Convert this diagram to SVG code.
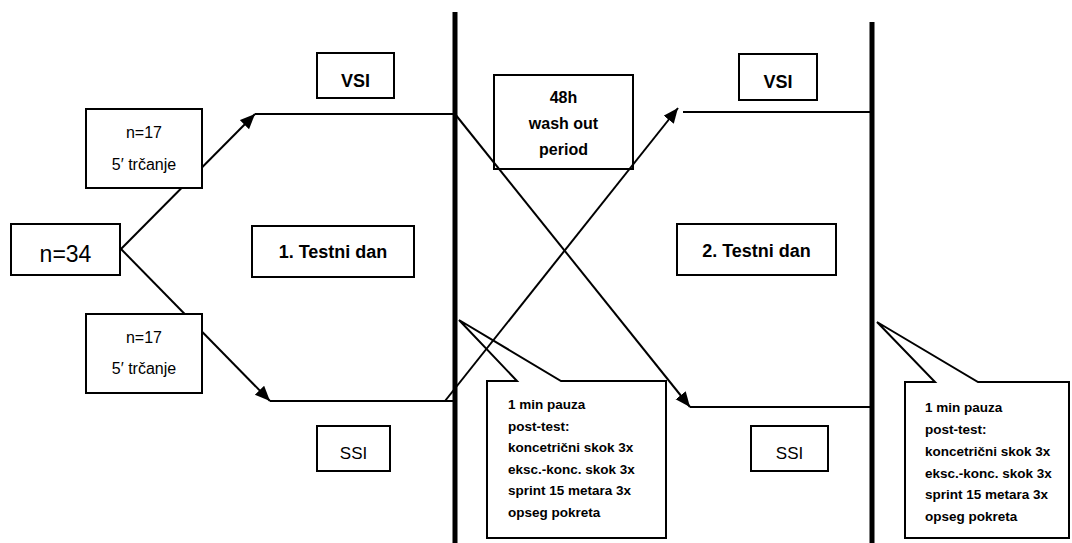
<svg xmlns="http://www.w3.org/2000/svg" width="1072" height="543" viewBox="0 0 1072 543">
<style>
.box{fill:#fff;stroke:#000;stroke-width:2}
.open{fill:none;stroke:#000;stroke-width:2}
.ln{fill:none;stroke:#000;stroke-width:2}
.bar{fill:none;stroke:#000;stroke-width:5}
.t{font-family:"Liberation Sans",Arial,sans-serif;fill:#000;text-anchor:middle}
.b{font-weight:bold}
.c{font-family:"Liberation Sans",Arial,sans-serif;font-weight:bold;font-size:13.5px;fill:#000}
</style>
<defs>
<marker id="ah" markerUnits="userSpaceOnUse" markerWidth="16" markerHeight="14" refX="15" refY="6.5" orient="auto">
<path d="M0,0 L15,6.5 L0,13 z" fill="#000"/>
</marker>
</defs>
<g id="connectors">
<line class="ln" x1="121" y1="249" x2="255" y2="114" marker-end="url(#ah)"/>
<line class="ln" x1="255" y1="114" x2="455" y2="114"/>
<line class="ln" x1="455" y1="114" x2="690" y2="407" marker-end="url(#ah)"/>
<line class="ln" x1="690" y1="407" x2="872" y2="407"/>
<line class="ln" x1="121" y1="249" x2="270" y2="401" marker-end="url(#ah)"/>
<line class="ln" x1="270" y1="401" x2="455" y2="401"/>
<line class="ln" x1="445" y1="401" x2="678" y2="108" marker-end="url(#ah)"/>
<line class="ln" x1="683" y1="112" x2="872" y2="112"/>
</g>
<g id="dividers">
<line class="bar" x1="455" y1="12" x2="455" y2="543"/>
<line class="bar" x1="872" y1="22" x2="872" y2="543"/>
</g>
<g id="n34">
<rect class="box" x="11" y="224" width="109" height="51"/>
<text class="t" x="65.5" y="262" font-size="23">n=34</text>
</g>
<g id="group-top">
<rect class="box" x="86" y="109" width="116" height="79"/>
<text class="t" x="144" y="138" font-size="16">n=17</text>
<text class="t" x="144" y="170" font-size="16">5′ trčanje</text>
</g>
<g id="group-bottom">
<rect class="box" x="86" y="314" width="116" height="79"/>
<text class="t" x="144" y="343" font-size="16">n=17</text>
<text class="t" x="144" y="374" font-size="16">5′ trčanje</text>
</g>
<g id="vsi-1">
<rect class="box" x="317" y="53" width="77" height="45"/>
<text class="t b" x="355.5" y="87" font-size="18">VSI</text>
</g>
<g id="day-1">
<rect class="box" x="252" y="226" width="162" height="51"/>
<text class="t b" x="333" y="258" font-size="18">1. Testni dan</text>
</g>
<g id="ssi-1">
<rect class="box" x="317" y="426" width="73" height="45"/>
<text class="t" x="353.5" y="459" font-size="17">SSI</text>
</g>
<g id="washout">
<rect class="open" x="494" y="75" width="139" height="94"/>
<text class="t b" x="563.5" y="103" font-size="16">48h</text>
<text class="t b" x="563.5" y="129" font-size="16">wash out</text>
<text class="t b" x="563.5" y="155" font-size="16">period</text>
</g>
<g id="vsi-2">
<rect class="box" x="739" y="54" width="78" height="46"/>
<text class="t b" x="778" y="88" font-size="18">VSI</text>
</g>
<g id="day-2">
<rect class="box" x="677" y="224" width="159" height="51"/>
<text class="t b" x="756.5" y="257" font-size="18">2. Testni dan</text>
</g>
<g id="ssi-2">
<rect class="box" x="751" y="426" width="77" height="45"/>
<text class="t" x="789.5" y="459" font-size="17">SSI</text>
</g>
<g id="callout-1">
<path class="open" d="M487,381 L517,381 L459,320 L561,381 L666,381 L666,538 L487,538 Z"/>
<text class="c" x="508" y="409">1 min pauza</text>
<text class="c" x="508" y="431">post-test:</text>
<text class="c" x="508" y="452">koncetrični skok 3x</text>
<text class="c" x="508" y="474">eksc.-konc. skok 3x</text>
<text class="c" x="508" y="495">sprint 15 metara 3x</text>
<text class="c" x="508" y="517">opseg pokreta</text>
</g>
<g id="callout-2">
<path class="open" d="M905,382 L935,382 L877,322 L978,382 L1069,382 L1069,538 L905,538 Z"/>
<text class="c" x="925" y="412">1 min pauza</text>
<text class="c" x="925" y="434">post-test:</text>
<text class="c" x="925" y="456">koncetrični skok 3x</text>
<text class="c" x="925" y="478">eksc.-konc. skok 3x</text>
<text class="c" x="925" y="499">sprint 15 metara 3x</text>
<text class="c" x="925" y="521">opseg pokreta</text>
</g>
</svg>
